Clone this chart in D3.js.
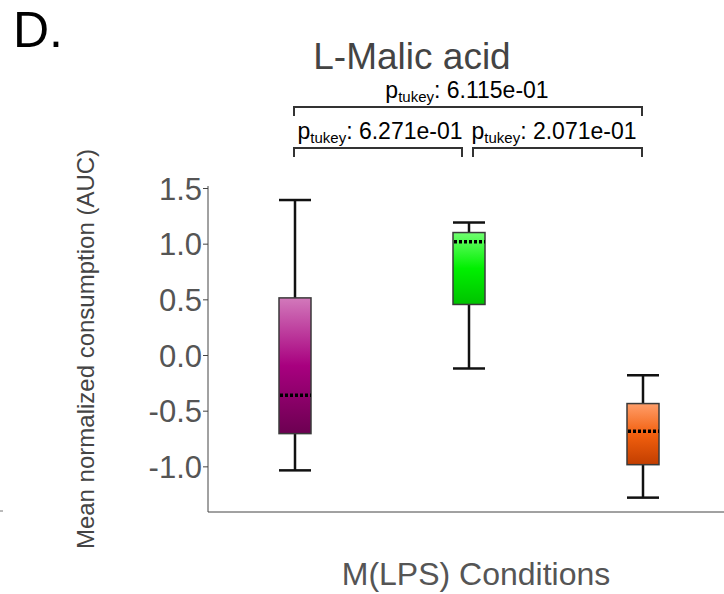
<!DOCTYPE html>
<html>
<head>
<meta charset="utf-8">
<script src="https://cdn.jsdelivr.net/npm/d3@7"></script>
<style>
  body { margin: 0; background: #fff; }
  svg { font-family: "Liberation Sans", Arial, sans-serif; }
</style>
</head>
<body>
<div id="chart"></div>
<script>
// box values
const conditions = ["Condition 1", "Condition 2", "Condition 3"];
const whiskerLow = [-1.036, -0.121, -1.281];
const q1 = [-0.706, 0.454, -0.985];
const medians = [-0.362, 1.017, -0.685];
const q3 = [0.513, 1.10, -0.436];
const whiskerHigh = [1.392, 1.19, -0.182];
const boxColors = [
  ["#d279bb", "#a8007f", "#6c0051"],
  ["#70ff70", "#00f000", "#00c200"],
  ["#ff9e6a", "#f2600f", "#c23e00"]
];
const yTicks = [-1.0, -0.5, 0.0, 0.5, 1.0, 1.5];
// tukey comparisons
const compFrom = [0, 0, 1];
const compTo = [2, 1, 2];
const compLevel = [1, 0, 0];
const compP = ["6.115e-01", "6.271e-01", "2.071e-01"];

const w = 724, h = 594;
const plotLeft = 208, plotBottom = 512, plotTop = 188;
const boxW = 32;

const svg = d3.select("#chart").append("svg")
  .attr("width", w).attr("height", h);

const defs = svg.append("defs");
boxColors.forEach((c, i) => {
  const g = defs.append("linearGradient")
    .attr("id", "grad" + i)
    .attr("x1", 0).attr("y1", 0).attr("x2", 0).attr("y2", 1);
  g.append("stop").attr("offset", "0%").attr("stop-color", c[0]);
  g.append("stop").attr("offset", "50%").attr("stop-color", c[1]);
  g.append("stop").attr("offset", "100%").attr("stop-color", c[2]);
});

const xScale = d3.scalePoint()
  .domain(conditions)
  .range([plotLeft, 730])
  .padding(0.5);
const yScale = d3.scaleLinear()
  .domain([-1.41, 1.5])
  .range([plotBottom, plotTop]);

// panel letter
svg.append("text")
  .attr("x", 13).attr("y", 47)
  .attr("font-size", 50)
  .attr("fill", "#000")
  .text("D.");

svg.append("line")
  .attr("x1", 0).attr("x2", 3).attr("y1", 511).attr("y2", 511)
  .attr("stroke", "#777");

// title
svg.append("text")
  .attr("x", 412).attr("y", 69)
  .attr("text-anchor", "middle")
  .attr("font-size", 37)
  .attr("fill", "#444")
  .text("L-Malic acid");

// y axis, plain hyphen for negatives
const fmt = d3.format(".1f");
const yAxis = d3.axisLeft(yScale)
  .tickValues(yTicks)
  .tickFormat(d => fmt(d).replace("\u2212", "-"))
  .tickSize(5)
  .tickSizeOuter(0);
const gy = svg.append("g")
  .attr("transform", "translate(" + plotLeft + ",0)")
  .call(yAxis);
gy.select(".domain").attr("stroke", "#444").attr("d", "M0," + plotBottom + "V" + (plotTop - 2));
gy.selectAll(".tick line").attr("stroke", "#444");
gy.selectAll(".tick text")
  .attr("font-size", 31)
  .attr("fill", "#555")
  .attr("x", -6)
  .attr("dy", "0.36em")
  .attr("font-family", "Liberation Sans, Arial, sans-serif");

// x axis line, no tick labels
const xAxis = d3.axisBottom(xScale).tickSize(0).tickFormat("");
const gx = svg.append("g")
  .attr("transform", "translate(0," + plotBottom + ")")
  .call(xAxis);
gx.select(".domain").attr("stroke", "#444").attr("d", "M" + plotLeft + ",0H" + w);

// axis labels
svg.append("text")
  .attr("x", 476).attr("y", 585)
  .attr("text-anchor", "middle")
  .attr("font-size", 32)
  .attr("fill", "#555")
  .text("M(LPS) Conditions");

svg.append("text")
  .attr("transform", "translate(94,349) rotate(-90)")
  .attr("text-anchor", "middle")
  .attr("font-size", 24)
  .attr("fill", "#444")
  .text("Mean normalized consumption (AUC)");

// boxes
const boxes = svg.append("g").selectAll("g")
  .data(conditions)
  .enter()
  .append("g");

boxes.append("line")
  .attr("x1", d => xScale(d)).attr("x2", d => xScale(d))
  .attr("y1", (d, i) => yScale(whiskerHigh[i]))
  .attr("y2", (d, i) => yScale(whiskerLow[i]))
  .attr("stroke", "#111").attr("stroke-width", 2.5);

boxes.append("line")
  .attr("x1", d => xScale(d) - boxW / 2).attr("x2", d => xScale(d) + boxW / 2)
  .attr("y1", (d, i) => yScale(whiskerHigh[i]))
  .attr("y2", (d, i) => yScale(whiskerHigh[i]))
  .attr("stroke", "#111").attr("stroke-width", 2.5);

boxes.append("line")
  .attr("x1", d => xScale(d) - boxW / 2).attr("x2", d => xScale(d) + boxW / 2)
  .attr("y1", (d, i) => yScale(whiskerLow[i]))
  .attr("y2", (d, i) => yScale(whiskerLow[i]))
  .attr("stroke", "#111").attr("stroke-width", 2.5);

boxes.append("rect")
  .attr("x", d => xScale(d) - boxW / 2)
  .attr("width", boxW)
  .attr("y", (d, i) => yScale(q3[i]))
  .attr("height", (d, i) => yScale(q1[i]) - yScale(q3[i]))
  .attr("fill", (d, i) => "url(#grad" + i + ")")
  .attr("stroke", "#3a3a3a").attr("stroke-width", 1.5);

boxes.append("line")
  .attr("x1", d => xScale(d) - boxW / 2 + 1).attr("x2", d => xScale(d) + boxW / 2)
  .attr("y1", (d, i) => yScale(medians[i]))
  .attr("y2", (d, i) => yScale(medians[i]))
  .attr("stroke", "#000").attr("stroke-width", 3.5)
  .attr("stroke-dasharray", "3,2");

// tukey brackets
const levelY = [148, 107];
const comps = svg.append("g").selectAll("g")
  .data(compP)
  .enter()
  .append("g");

comps.append("path")
  .attr("d", (d, i) => {
    const x1 = xScale(conditions[compFrom[i]]) - 1 + (compFrom[i] === 1 ? 5 : 0);
    const x2 = xScale(conditions[compTo[i]]) - 1 - (compTo[i] === 1 ? 6 : 0);
    const y = levelY[compLevel[i]];
    return "M" + x1 + "," + (y + 9) + "V" + y + "H" + x2 + "V" + (y + 9);
  })
  .attr("fill", "none")
  .attr("stroke", "#333").attr("stroke-width", 2);

const labels = comps.append("text")
  .attr("x", (d, i) => (xScale(conditions[compFrom[i]]) + xScale(conditions[compTo[i]])) / 2 - 2)
  .attr("y", (d, i) => levelY[compLevel[i]] - 9)
  .attr("text-anchor", "middle")
  .attr("font-size", 23)
  .attr("fill", "#000");
labels.append("tspan").text("p");
labels.append("tspan").attr("font-size", 15).attr("dy", 4).text("tukey");
labels.append("tspan").attr("dy", -4).text(d => ": " + d);
</script>
</body>
</html>
